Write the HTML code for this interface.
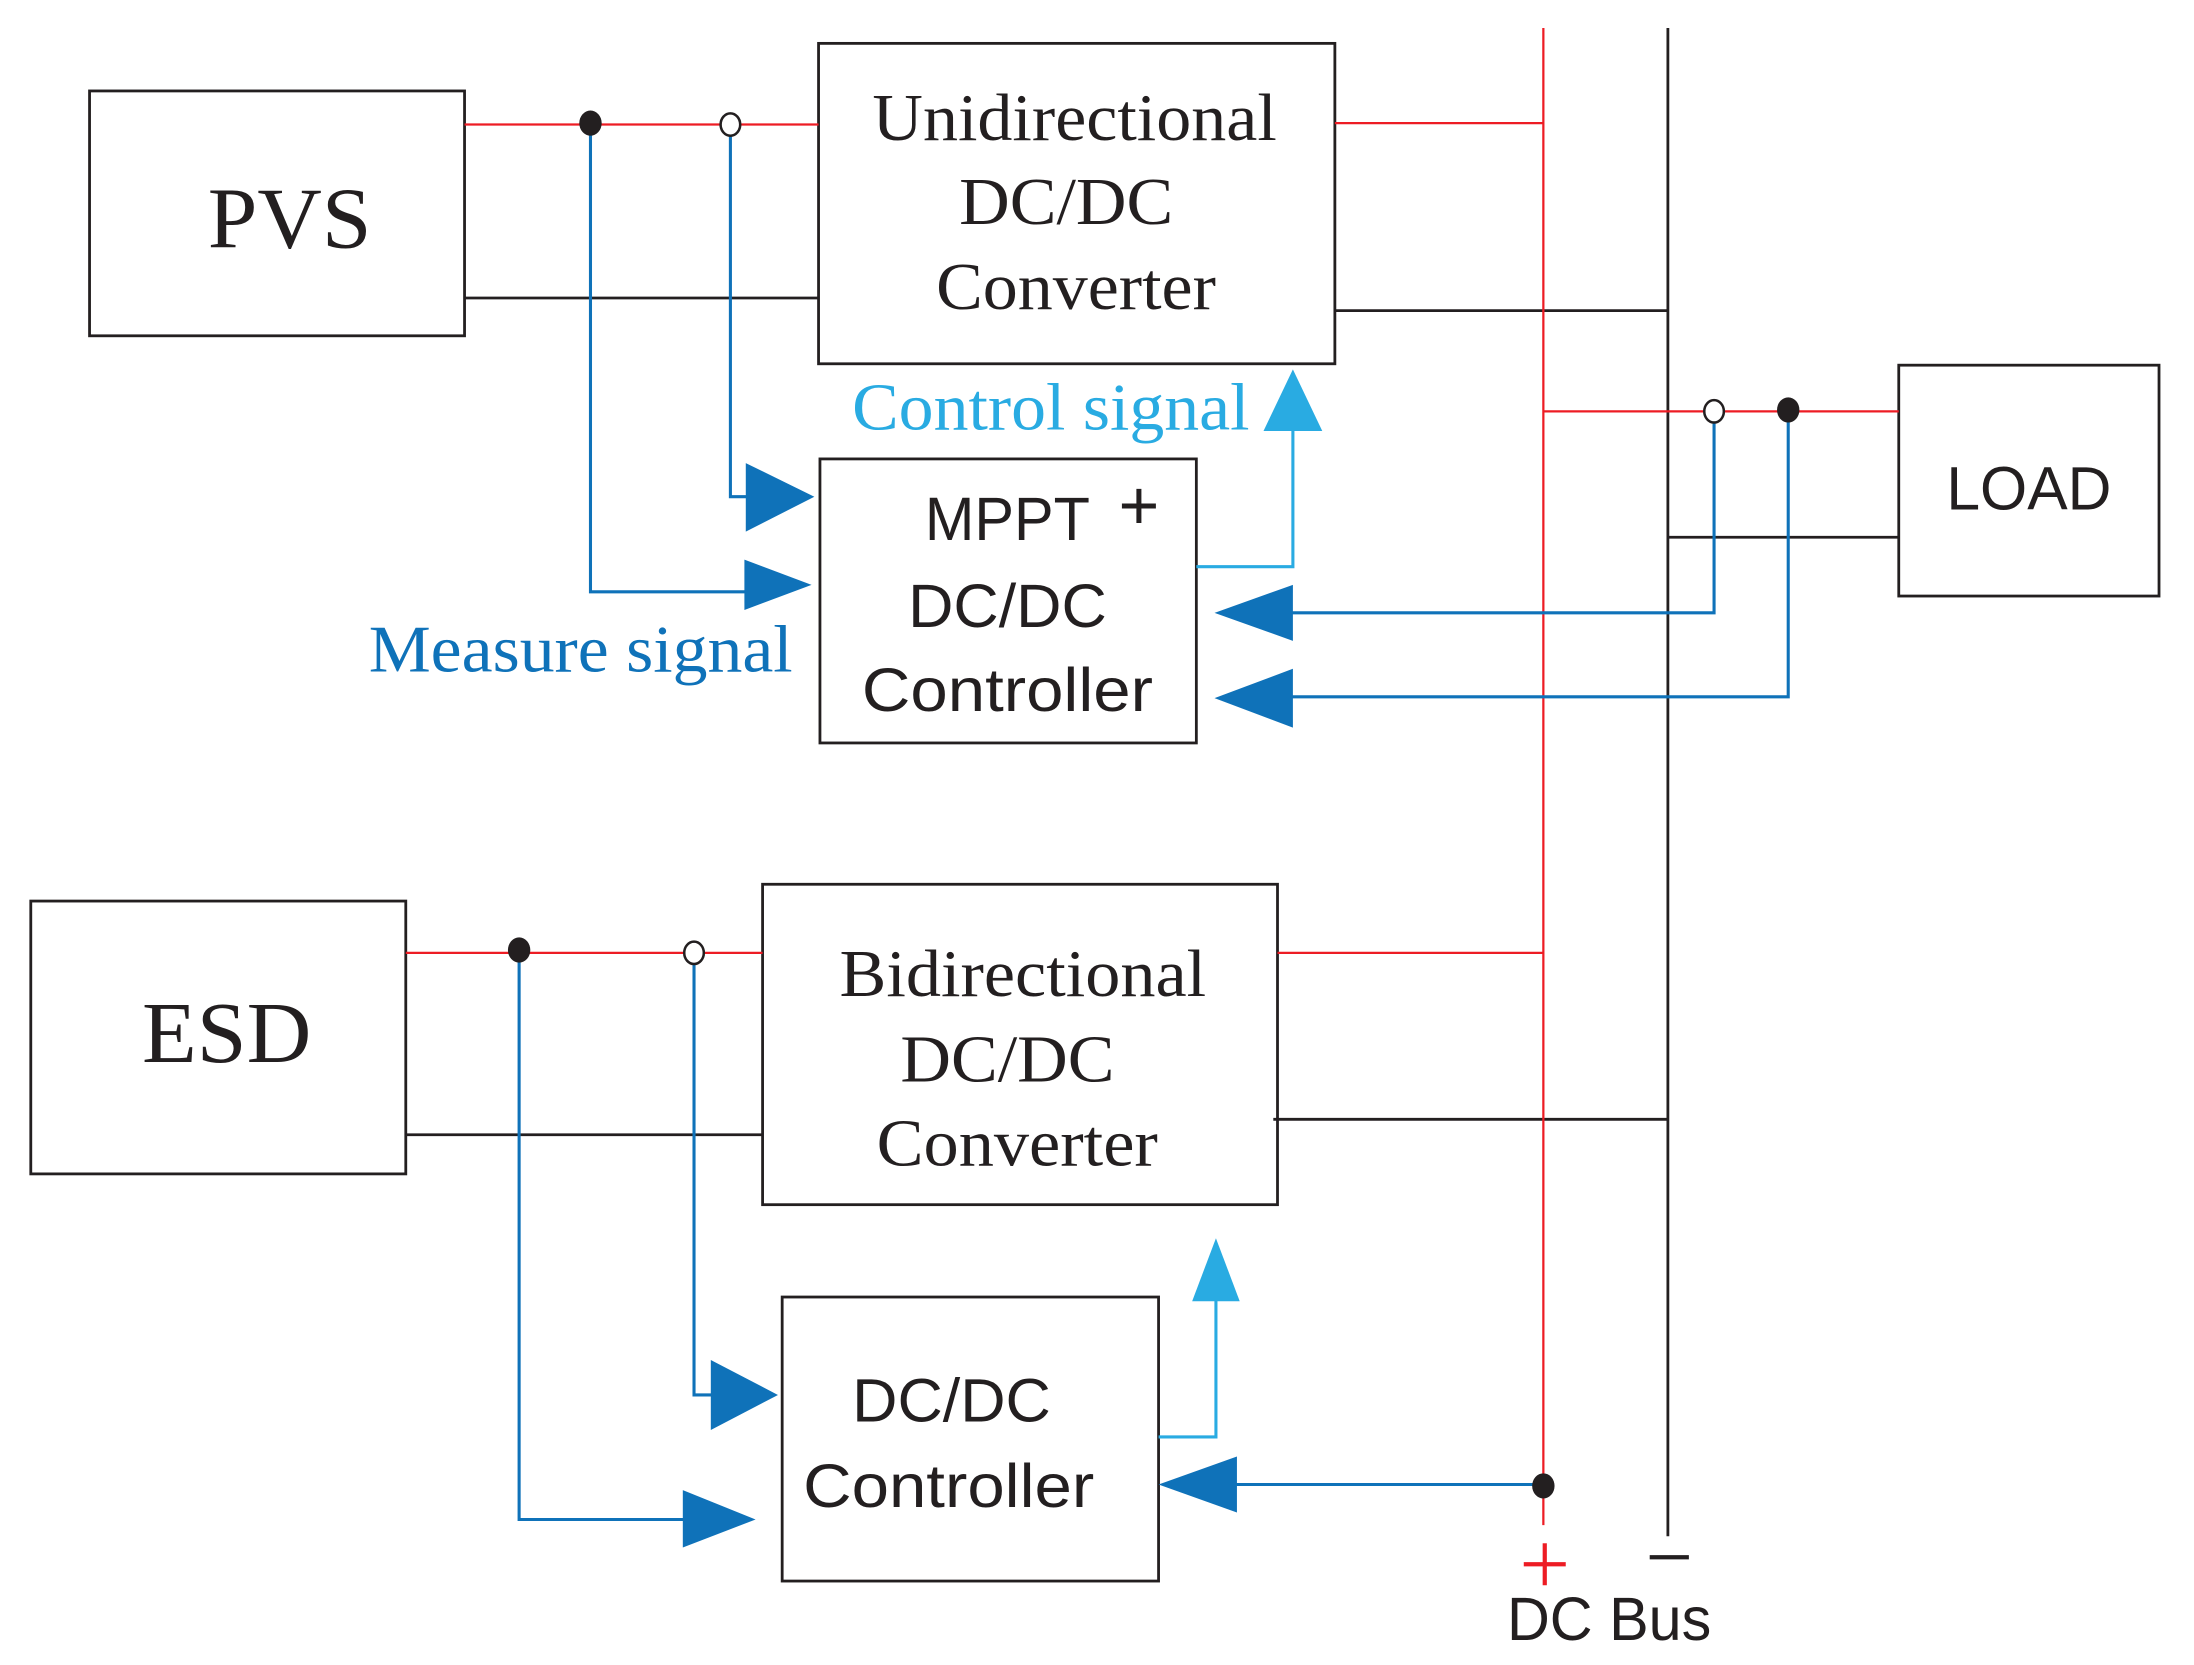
<!DOCTYPE html>
<html><head><meta charset="utf-8"><style>html,body{margin:0;padding:0;background:#fff}svg{display:block}</style></head>
<body>
<svg width="2194" height="1665" viewBox="0 0 1568 1190" preserveAspectRatio="none" xmlns="http://www.w3.org/2000/svg">
<g fill="none" stroke="#231f20" stroke-width="2">
<rect x="64" y="65" width="268" height="175"/>
<rect x="585" y="31" width="369" height="229"/>
<rect x="1357" y="261" width="186" height="165"/>
<rect x="586" y="328" width="269" height="203"/>
<rect x="22" y="644" width="268" height="195"/>
<rect x="545" y="632" width="368" height="229"/>
<rect x="559" y="927" width="269" height="203"/>
<line x1="332" y1="213" x2="585" y2="213"/>
<line x1="954" y1="222" x2="1192" y2="222"/>
<line x1="1192" y1="20" x2="1192" y2="1098"/>
<line x1="1192" y1="384" x2="1357" y2="384"/>
<line x1="290" y1="811" x2="545" y2="811"/>
<line x1="910" y1="800" x2="1192" y2="800"/>
</g>
<g fill="none" stroke="#ed1c24" stroke-width="1.6">
<line x1="332" y1="89" x2="585" y2="89"/>
<line x1="954" y1="88" x2="1103" y2="88"/>
<line x1="1103" y1="20" x2="1103" y2="1090"/>
<line x1="1103" y1="294" x2="1357" y2="294"/>
<line x1="290" y1="681" x2="545" y2="681"/>
<line x1="913" y1="681" x2="1103" y2="681"/>
</g>
<g fill="none" stroke="#0f72b9" stroke-width="2.2">
<polyline points="422,88 422,423 540,423"/>
<polyline points="522,97 522,355 540,355"/>
<polyline points="1225,302 1225,438 920,438"/>
<polyline points="1278,301 1278,498 920,498"/>
<polyline points="496,689 496,997 510,997"/>
<polyline points="371,687 371,1086 490,1086"/>
<polyline points="1103,1061 880,1061"/>
</g>
<g fill="none" stroke="#29abe2" stroke-width="2.2">
<polyline points="855,405 924,405 924,300"/>
<polyline points="828,1027 869,1027 869,925"/>
</g>
<g fill="#0f72b9">
<polygon points="580,418 532,400 532,436"/>
<polygon points="582,355 533,331 533,380"/>
<polygon points="868,438 924,418 924,458"/>
<polygon points="868,499 924,478 924,520"/>
<polygon points="556,997 508,972 508,1022"/>
<polygon points="540,1086 488,1065 488,1106"/>
<polygon points="828,1061 884,1041 884,1081"/>
</g>
<g fill="#29abe2">
<polygon points="924,264 903,308 945,308"/>
<polygon points="869,885 852,930 886,930"/>
</g>
<g fill="#231f20">
<ellipse cx="422" cy="88" rx="8" ry="9"/>
<ellipse cx="1278" cy="293" rx="8" ry="9"/>
<ellipse cx="371" cy="679" rx="8" ry="9"/>
<ellipse cx="1103" cy="1062" rx="8" ry="9"/>
</g>
<g fill="#fff" stroke="#231f20" stroke-width="1.8">
<ellipse cx="522" cy="89" rx="7" ry="8"/>
<ellipse cx="1225" cy="294" rx="7" ry="8"/>
<ellipse cx="496" cy="681" rx="7" ry="8"/>
</g>
<g font-family="Liberation Serif, serif" fill="#231f20" text-anchor="middle" lengthAdjust="spacingAndGlyphs">
<text x="207" y="177" font-size="62" textLength="117" lengthAdjust="spacingAndGlyphs">PVS</text>
<text x="162" y="759" font-size="62" textLength="121" lengthAdjust="spacingAndGlyphs">ESD</text>
<text x="768" y="100" font-size="48" textLength="289" lengthAdjust="spacingAndGlyphs">Unidirectional</text>
<text x="762" y="160" font-size="48" textLength="153" lengthAdjust="spacingAndGlyphs">DC/DC</text>
<text x="769" y="221" font-size="48" textLength="200" lengthAdjust="spacingAndGlyphs">Converter</text>
<text x="731" y="712" font-size="48" textLength="262" lengthAdjust="spacingAndGlyphs">Bidirectional</text>
<text x="720" y="773" font-size="48" textLength="153" lengthAdjust="spacingAndGlyphs">DC/DC</text>
<text x="727" y="833" font-size="48" textLength="201" lengthAdjust="spacingAndGlyphs">Converter</text>
<text x="751" y="307" font-size="48" fill="#29abe2" textLength="284" lengthAdjust="spacingAndGlyphs">Control signal</text>
<text x="415" y="480" font-size="48" fill="#0f72b9" textLength="303" lengthAdjust="spacingAndGlyphs">Measure signal</text>
</g>
<g font-family="Liberation Sans, sans-serif" fill="#231f20" text-anchor="middle">
<text x="720" y="386" font-size="44" textLength="118" lengthAdjust="spacingAndGlyphs">MPPT</text>
<text x="814" y="378" font-size="50">+</text>
<text x="720" y="448" font-size="44" textLength="142" lengthAdjust="spacingAndGlyphs">DC/DC</text>
<text x="720" y="508" font-size="44" textLength="208" lengthAdjust="spacingAndGlyphs">Controller</text>
<text x="680" y="1016" font-size="44" textLength="142" lengthAdjust="spacingAndGlyphs">DC/DC</text>
<text x="678" y="1077" font-size="44" textLength="208" lengthAdjust="spacingAndGlyphs">Controller</text>
<text x="1450" y="364" font-size="44" textLength="118" lengthAdjust="spacingAndGlyphs">LOAD</text>
<text x="1150" y="1172" font-size="44" textLength="146" lengthAdjust="spacingAndGlyphs">DC Bus</text>
</g>
<g stroke-width="3">
<line x1="1089" y1="1118" x2="1119" y2="1118" stroke="#ed1c24"/>
<line x1="1104" y1="1103" x2="1104" y2="1133" stroke="#ed1c24"/>
<line x1="1179" y1="1113" x2="1207" y2="1113" stroke="#231f20"/>
</g>
</svg>
</body></html>
